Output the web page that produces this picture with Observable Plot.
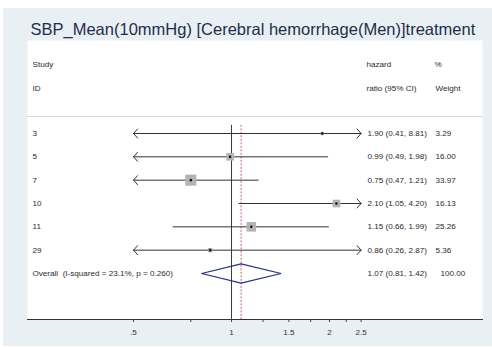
<!DOCTYPE html>
<html>
<head>
<meta charset="utf-8">
<script src="https://cdn.jsdelivr.net/npm/d3@7"></script>
<script src="https://cdn.jsdelivr.net/npm/@observablehq/plot@0.6"></script>
<style>
  html, body { margin: 0; padding: 0; background: #ffffff; }
  #chart svg { display: block; margin: 8px 0 0 3px; }
</style>
</head>
<body>
<div id="chart"></div>
<script>
// Study-level estimates (hazard ratio with 95% CI) and meta-analysis weights
const studies = ["3", "5", "7", "10", "11", "29"];
const hazardRatio = [1.90, 0.99, 0.75, 2.10, 1.15, 0.86];
const ciLow = [0.41, 0.49, 0.47, 1.05, 0.66, 0.26];
const ciHigh = [8.81, 1.98, 1.21, 4.20, 1.99, 2.87];
const weights = [3.29, 16.00, 33.97, 16.13, 25.26, 5.36];

// Pooled estimate
const overallLabel = "Overall  (I-squared = 23.1%, p = 0.260)";
const overallHR = 1.07;
const overallLow = 0.81;
const overallHigh = 1.42;
const overallWeight = 100.00;

// Axis ticks
const tickValues = [0.5, 1, 1.5, 2, 2.5];
const tickLabels = [".5", "1", "1.5", "2", "2.5"];
const minorTicks = [0.75, 1.25, 1.75, 2.25];

const titleText = "SBP_Mean(10mmHg) [Cerebral hemorrhage(Men)]treatment";
const headerTop = ["Study", "hazard", "%"];
const headerBottom = ["ID", "ratio (95% CI)", "Weight"];

const fmt = d3.format(".2f");
const xMin = 0.5, xMax = 2.5;

const rows = studies.map((id, i) => ({
  id, row: i, hr: hazardRatio[i], lo: ciLow[i], hi: ciHigh[i], w: weights[i],
  ci: `${fmt(hazardRatio[i])} (${fmt(ciLow[i])}, ${fmt(ciHigh[i])})`,
  wt: fmt(weights[i])
}));
const overallRow = studies.length;
const overall = {
  id: overallLabel, row: overallRow, hr: overallHR, lo: overallLow, hi: overallHigh,
  ci: `${fmt(overallHR)} (${fmt(overallLow)}, ${fmt(overallHigh)})`,
  wt: fmt(overallWeight)
};

// Split each CI at the point estimate; ends beyond the axis get an arrowhead
const segments = [];
rows.forEach(d => {
  segments.push({row: d.row, x1: d.hr, x2: Math.max(d.lo, xMin), clipped: d.lo < xMin});
  segments.push({row: d.row, x1: d.hr, x2: Math.min(d.hi, xMax), clipped: d.hi > xMax});
});

// Diamond for the pooled estimate (half-height in row units)
const dh = 0.41;
const diamond = [
  {x: overall.lo, y: overallRow},
  {x: overall.hr, y: overallRow - dh},
  {x: overall.hi, y: overallRow},
  {x: overall.hr, y: overallRow + dh},
  {x: overall.lo, y: overallRow}
];

const headRow1 = -2.95, headRow2 = -1.95, headRule = -0.73, refTop = -0.35, axisRow = 8;
const textColor = "#2a2a2a";
const colStudy = 5, colCI = 339, colWeight = 408;
const headerText = (label, row, dx) =>
  Plot.text([label], {y: [row], text: d => d, frameAnchor: "left", dx, textAnchor: "start", fill: textColor});
const ticks = tickValues.map((v, i) => ({v, label: tickLabels[i]}));

const chart = Plot.plot({
  width: 489,
  height: 338,
  marginLeft: 24,
  marginRight: 10,
  marginTop: 32,
  marginBottom: 27,
  style: {
    fontFamily: "'Liberation Sans', Arial, sans-serif",
    fontSize: "8.1px",
    background: "#e9f0f3",
    overflow: "visible"
  },
  x: {type: "log", domain: [xMin, xMax], range: [130, 357.6], label: null},
  y: {type: "linear", domain: [0, 6], range: [125, 265], axis: null},
  r: {type: "sqrt", domain: [0, 100], range: [0, 10.7]},
  marks: [
    Plot.frame({fill: "white", stroke: null}),
    // header separator
    Plot.ruleY([headRule], {stroke: "#d9d9d9", strokeWidth: 1}),
    // null line and pooled-estimate line
    Plot.ruleX([1], {y1: refTop, y2: axisRow, stroke: "#3a3a3a", strokeWidth: 1}),
    Plot.ruleX([overallHR], {y1: refTop, y2: axisRow, stroke: "#cf5f6a", strokeWidth: 1, strokeDasharray: "2,1.5"}),
    // confidence intervals
    Plot.link(segments.filter(s => !s.clipped), {x1: "x1", x2: "x2", y1: "row", y2: "row", stroke: "#333", strokeWidth: 1}),
    Plot.arrow(segments.filter(s => s.clipped), {x1: "x1", x2: "x2", y1: "row", y2: "row", stroke: "#333", strokeWidth: 1, headLength: 9, headAngle: 96}),
    // weight boxes and point estimates
    Plot.dot(rows, {x: "hr", y: "row", r: "w", symbol: "square", fill: "#b3b3b3", stroke: null}),
    Plot.dot(rows, {x: "hr", y: "row", r: 1.3, fill: "#111", stroke: null}),
    // pooled diamond
    Plot.line(diamond, {x: "x", y: "y", stroke: "#24308c", strokeWidth: 1.2, strokeLinejoin: "miter"}),
    // column headers
    headerText(headerTop[0], headRow1, colStudy),
    headerText(headerBottom[0], headRow2, colStudy),
    headerText(headerTop[1], headRow1, colCI),
    headerText(headerBottom[1], headRow2, colCI),
    headerText(headerTop[2], headRow1, colWeight - 1),
    headerText(headerBottom[2], headRow2, colWeight),
    // table body
    Plot.text(rows.concat([overall]), {y: "row", text: "id", frameAnchor: "left", dx: colStudy, textAnchor: "start", fill: textColor}),
    Plot.text(rows.concat([overall]), {y: "row", text: "ci", frameAnchor: "left", dx: colCI + 1, textAnchor: "start", fill: textColor}),
    Plot.text(rows, {y: "row", text: "wt", frameAnchor: "left", dx: colWeight, textAnchor: "start", fill: textColor}),
    Plot.text([overall], {y: "row", text: "wt", frameAnchor: "left", dx: colWeight + 5, textAnchor: "start", fill: textColor}),
    // x axis: line, major and minor ticks, labels
    Plot.frame({anchor: "bottom", stroke: "#333", strokeWidth: 1}),
    Plot.axisX(tickValues.concat(minorTicks), {tickFormat: () => "", tickSize: 3, stroke: "#444", label: null}),
    Plot.text(ticks, {x: "v", text: "label", frameAnchor: "bottom", dy: 13, lineAnchor: "middle", fill: "#333"}),
    // title
    Plot.text([titleText], {text: d => d, frameAnchor: "top-left", dx: 3, dy: -10.5, lineAnchor: "middle", textAnchor: "start", fontSize: 16.5, fill: "#1f2d4d"})
  ]
});

document.getElementById("chart").appendChild(chart);
</script>
</body>
</html>
